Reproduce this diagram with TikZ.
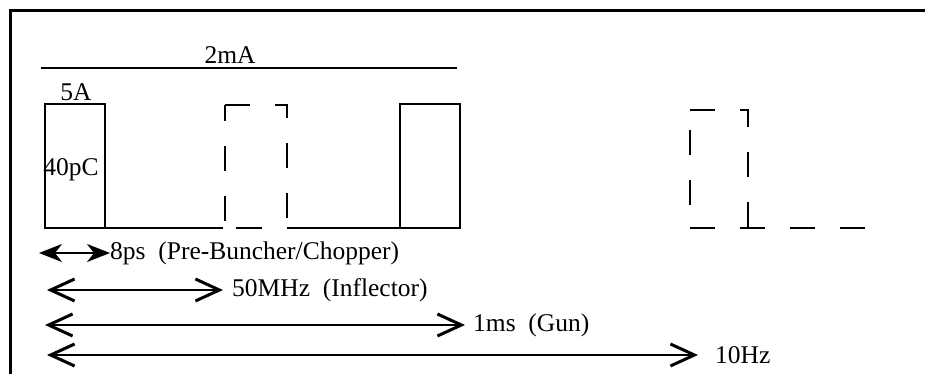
\documentclass[tikz,border=0pt]{standalone}
\usepackage{fontspec}
\setmainfont{Liberation Serif}
\usetikzlibrary{arrows.meta}
\newcommand{\drawPulse}[2]{
	\draw[pulse] (#1,228) rectangle (#2,104) ;
}
\tikzset{
	pulse/.style={line width=2pt},
	ghost/.style={line width=2pt, dash pattern=on 25pt off 25pt},
	span/.style={line width=2pt, {Straight Barb[length=24pt,width=22pt,line width=3pt]}-{Straight Barb[length=24pt,width=22pt,line width=3pt]}},
	shortspan/.style={line width=2pt, {Stealth[length=23pt,width=18pt,inset=7pt]}-{Stealth[length=23pt,width=18pt,inset=7pt]}},
	lbl/.style={anchor=west, inner sep=0pt, font=\fontsize{25.5}{30}\selectfont}
}
\begin{document}
\begin{tikzpicture}[x=1pt, y=-1pt]
%%%%%%%%%%%%%%%%%%
\useasboundingbox (0,0) rectangle (925,374);

%Frame
	\draw[line width=3pt] (10,374) -- (10,11) -- (925,11);

%Current line
	\draw[pulse] (41,68) -- (457,68);
	\node[lbl, anchor=south] (lbl2mA) at (230,64) {2mA};

% Solid pulses
\drawPulse{45}{105}
\drawPulse{400}{460}
	\draw[pulse] (105,228) -- (223,228);
	\draw[pulse] (287,228) -- (400,228);
	\node[lbl, anchor=south] (lbl5A) at (76,101) {5A};
	\node[lbl, anchor=center] (lbl40pC) at (71,170) {40pC};

% Missing pulses
	\draw[ghost] (225,105) -- (287,105) -- (287,228);
	\draw[ghost, dash phase=9pt] (225,105) -- (225,228);
	\draw[pulse] (236,228) -- (262,228);
	\draw[ghost] (690,110) -- (748,110) -- (748,228);
	\draw[ghost, dash phase=30pt] (690,110) -- (690,228);
	\draw[ghost] (690,228) -- (870,228);

% Time spans
	\coordinate (s1) at (39,253);  \coordinate (e1) at (110,253);
	\coordinate (s2) at (47,290);  \coordinate (e2) at (223,290);
	\coordinate (s3) at (45,325);  \coordinate (e3) at (465,325);
	\coordinate (s4) at (47,355);  \coordinate (e4) at (698,355);
	\node[lbl] (lbl8ps) at (110,253) {8ps\ \ (Pre-Buncher/Chopper)};
	\node[lbl] (lbl50MHz) at (232,290) {50MHz\ \ (Inflector)};
	\node[lbl] (lbl1ms) at (473,325) {1ms\ \ (Gun)};
	\node[lbl] (lbl10Hz) at (715,355) {10Hz};
	\draw[shortspan] (s1) -- (e1);
	\draw[span] (s2) -- (e2);
	\draw[span] (s3) -- (e3);
	\draw[span] (s4) -- (e4);

\end{tikzpicture}
\end{document}
